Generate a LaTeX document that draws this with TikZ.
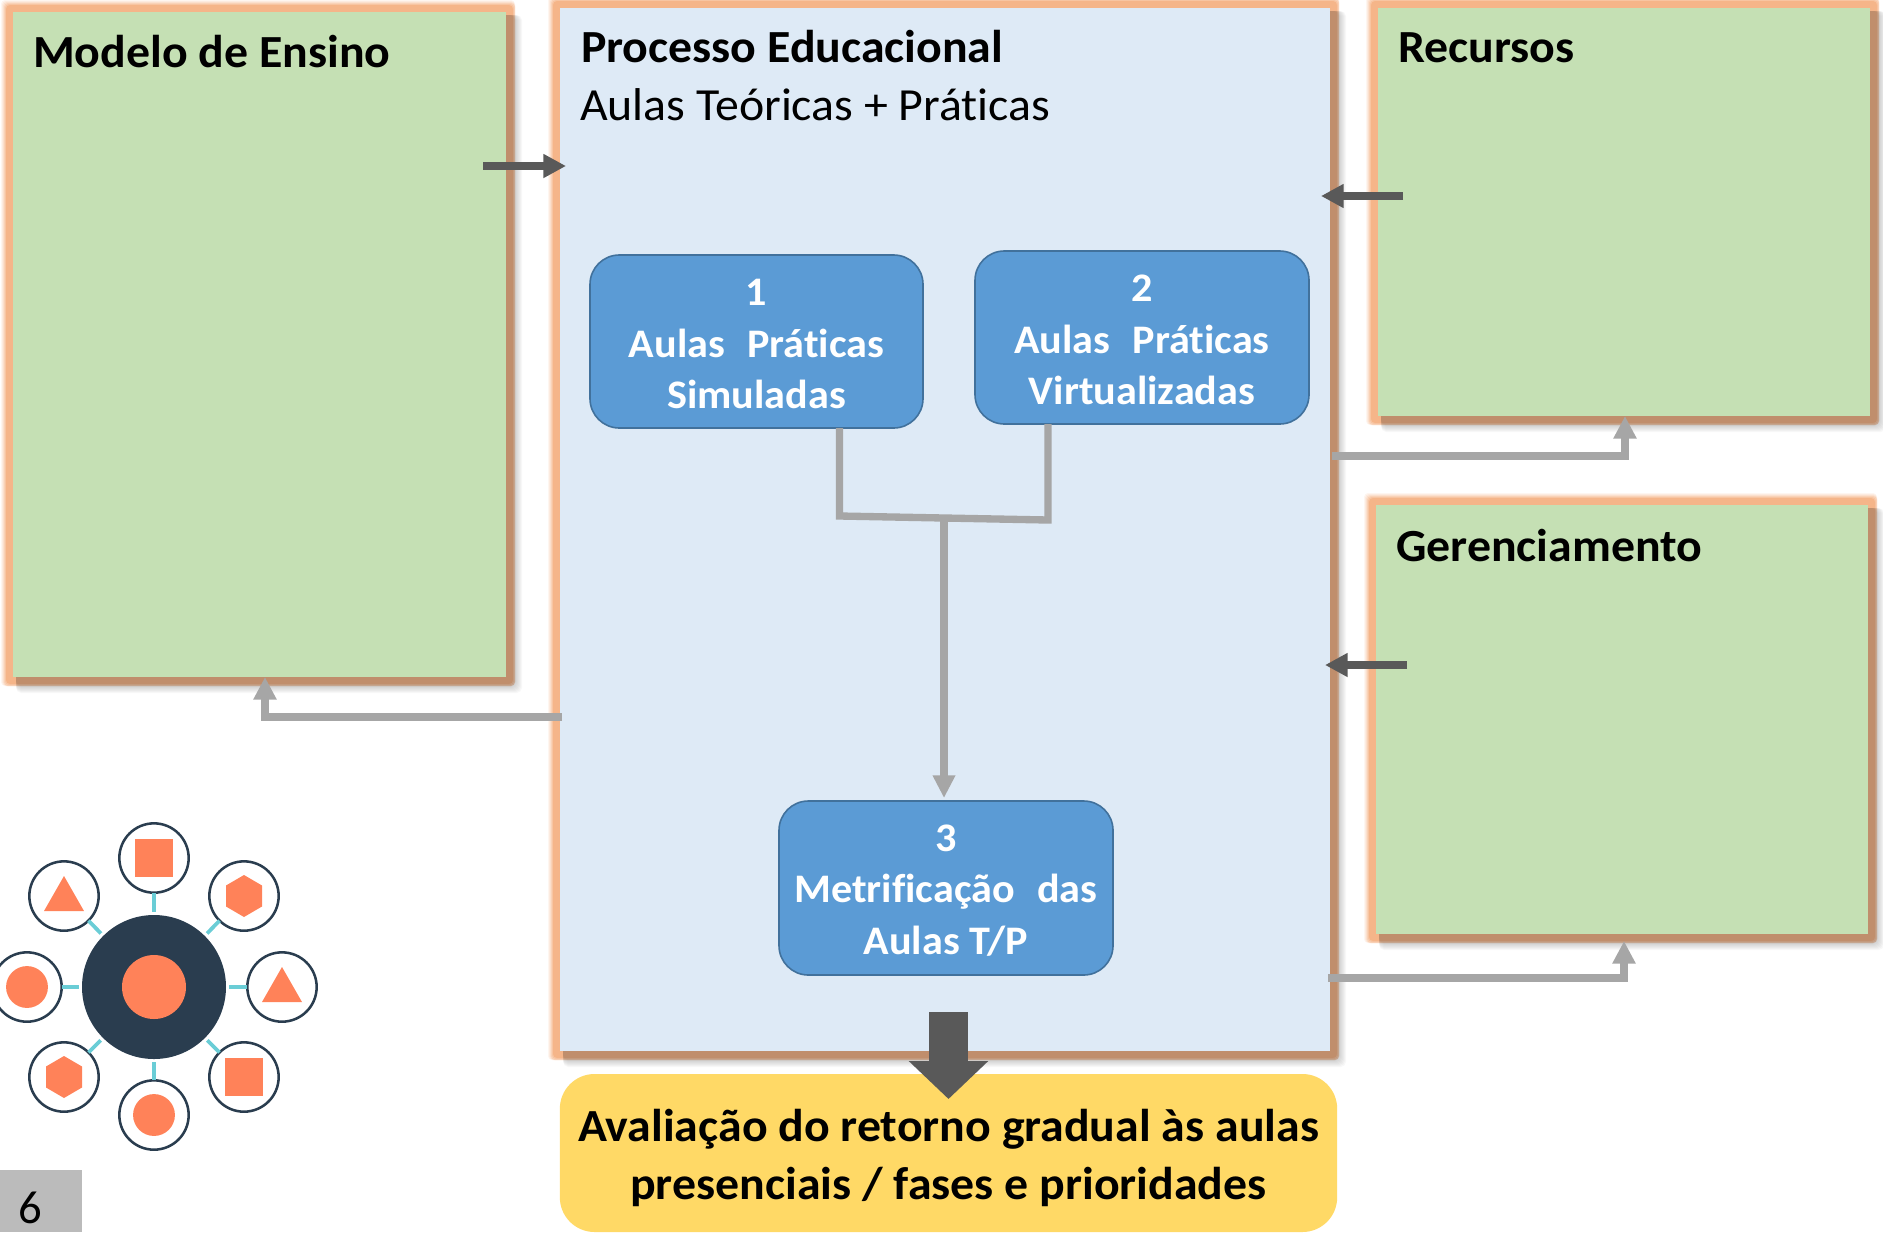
\documentclass[tikz,border=0pt]{standalone}
\usepackage{fontspec}
\setmainfont[Ligatures=NoCommon]{Carlito}
\newfontfamily\wide[Ligatures=NoCommon,FakeStretch=1.04]{Carlito}
\usetikzlibrary{arrows.meta,calc}
\definecolor{boxgreen}{HTML}{C5E0B4}
\definecolor{boxpale}{HTML}{DEEAF6}
\definecolor{glow}{HTML}{F4B183}
\definecolor{stepblue}{HTML}{5B9BD5}
\definecolor{stepline}{HTML}{41719C}
\definecolor{evalyellow}{HTML}{FFD966}
\definecolor{darkarrow}{HTML}{595959}
\definecolor{greyarrow}{HTML}{A6A6A6}
\definecolor{pagegrey}{HTML}{BBBBBB}
\definecolor{hubdark}{HTML}{2A3D4F}
\definecolor{shapeorange}{HTML}{FF8259}
\definecolor{linkteal}{HTML}{6ACDD6}
\tikzset{
  panel/.style={inner sep=0pt,outer sep=0pt,rectangle},
  stepbox/.style={rounded corners=22pt,draw=stepline,line width=1.2pt,fill=stepblue,inner sep=0pt,outer sep=0pt},
  steptext/.style={text=white,align=center,inner sep=0pt,outer sep=0pt,font=\wide\fontsize{30.4}{38.5}\selectfont\bfseries},
  title/.style={anchor=base west,inner sep=0pt,outer sep=0pt,font=\wide\fontsize{34.5}{40}\selectfont\bfseries},
  plain/.style={anchor=base west,inner sep=0pt,outer sep=0pt,font=\wide\fontsize{34.5}{40}\selectfont},
  feedback/.style={draw=darkarrow,line width=6pt,-{Triangle[length=17pt,width=17pt,fill=darkarrow]}},
  backflow/.style={draw=greyarrow,line width=6pt,-{Triangle[length=17pt,width=16.5pt,fill=greyarrow]}},
  merge/.style={draw=greyarrow,line width=5.5pt},
  sat/.style={circle,fill=white,draw=hubdark,line width=1.9pt,minimum size=52pt,inner sep=0pt,outer sep=0pt},
  link/.style={draw=linkteal,line width=2.8pt,shorten <=2.5pt},
  mark shape/.style={fill=shapeorange},
}
% name, x1, y1, x2, y2, fill : panel with orange glow and a soft shadow
\newcommand{\glowpanel}[6]{%
  \foreach \d/\o in {12/.12,11/.15,10/.2,9/.3,8/.4,7/.8} {%
    \pgfmathsetmacro{\e}{min(\d,9)}%
    \fill[glow,opacity=\o,rounded corners=3pt] (#2-\d,#3-\d) rectangle (#4+\e,#5+\e);
  }
  \foreach \d in {16,15,14,13,12,11,10,9} {%
    \fill[black,opacity=.027,rounded corners=4pt] (#2+3,#3+3) rectangle (#4+\d,#5+\d);
  }
  \pgfmathsetlengthmacro{\pw}{0.75*(#4-#2)*1pt}%
  \pgfmathsetlengthmacro{\ph}{0.75*(#5-#3)*1pt}%
  \node[panel,fill=#6,minimum width=\pw,minimum height=\ph] (#1) at ({(#2+#4)/2},{(#3+#5)/2}) {};
}
\newcommand{\stepnode}[6]{%
  \pgfmathsetlengthmacro{\pw}{0.75*(#4-#2)*1pt}%
  \pgfmathsetlengthmacro{\ph}{0.75*(#5-#3)*1pt}%
  \node[stepbox,minimum width=\pw,minimum height=\ph] (#1) at ({(#2+#4)/2},{(#3+#5)/2}) {};
  \node[steptext] (#1text) at ({(#2+#4)/2},{(#3+#5)/2+2.5}) {#6};
}
\newcommand{\msquare}[1]{\fill[mark shape] ([shift={(-19,-19)}]#1.center) rectangle ([shift={(19,19)}]#1.center);}
\newcommand{\mcircle}[1]{\fill[mark shape] (#1.center) circle (15.7pt);}
\newcommand{\mtriangle}[1]{\fill[mark shape] ([shift={(0,-20)}]#1.center) -- ([shift={(20,15)}]#1.center) -- ([shift={(-20,15)}]#1.center) -- cycle;}
\newcommand{\mhexagon}[1]{\fill[mark shape] ([shift={(0,-21)}]#1.center) -- ([shift={(18,-10.5)}]#1.center) -- ([shift={(18,10.5)}]#1.center) -- ([shift={(0,21)}]#1.center) -- ([shift={(-18,10.5)}]#1.center) -- ([shift={(-18,-10.5)}]#1.center) -- cycle;}
\newcommand{\widegap}{\ \ \hspace{2.4pt}}
\begin{document}
\begin{tikzpicture}[x=0.75pt,y=-0.75pt]
\useasboundingbox (0,0) rectangle (1883,1232);

% panels
\glowpanel{modelo}{13}{12}{506}{677}{boxgreen}
\glowpanel{recursos}{1378}{8}{1870}{416}{boxgreen}
\glowpanel{gerencia}{1376}{505}{1868}{934}{boxgreen}
\glowpanel{processo}{560}{8}{1330}{1051}{boxpale}

\node[title] (tmodelo) at (33,67) {Modelo de Ensino};
\node[title] (tprocesso) at (581,62) {Processo Educacional};
\node[plain] (taulas) at (580,120) {Aulas Teóricas + Práticas};
\node[title] (trecursos) at (1398,62) {Recursos};
\node[title] (tgerencia) at (1396,561) {Gerenciamento};

% step boxes
\stepnode{b1}{590}{255}{923}{428}{1\\Aulas\widegap Práticas\\Simuladas}
\stepnode{b2}{975}{251}{1309}{424}{2\\Aulas\widegap Práticas\\Virtualizadas}
\stepnode{b3}{779}{801}{1113}{975}{3\\Metrificação\widegap das\\Aulas T/P}

% merge connector
\coordinate (busl) at (839.5,516);
\coordinate (busr) at (1048,520);
\coordinate (busm) at (944,518);
\coordinate (mergetip) at (944,798);
\draw[merge,line join=miter] (busl |- b1.south) -- (busl) -- (busr) -- (busr |- b2.south);
\draw[merge,-{Triangle[length=17pt,width=16pt,fill=greyarrow]}] (busm) -- (mergetip);

% yellow box
\node[rounded corners=26pt,fill=evalyellow,inner sep=0pt,outer sep=0pt,minimum width=583pt,minimum height=118.5pt] (aval) at (948.5,1153) {};
\node[align=center,inner sep=0pt,outer sep=0pt,font=\wide\fontsize{34.5}{43.5}\selectfont\bfseries] (avaltext) at (948.5,1158)
  {Avaliação do retorno gradual às aulas\\presenciais / fases e prioridades};

% large arrow
\coordinate (bigstart) at (948.5,1012);
\coordinate (bigtip) at (948.5,1099);
\draw[draw=darkarrow,line width=29pt,-{Triangle[length=28.5pt,width=58pt,fill=darkarrow]}] (bigstart) -- (bigtip);

% input arrows
\coordinate (fa1) at (483,166);
\coordinate (ta1) at (566,166);
\draw[feedback] (fa1) -- (ta1);
\coordinate (fa2) at (1403,196);
\coordinate (ta2) at (1321,196);
\draw[feedback] (fa2) -- (ta2);
\coordinate (fa3) at (1407,665);
\coordinate (ta3) at (1325,665);
\draw[feedback] (fa3) -- (ta3);

% return arrows
\coordinate (c1) at (1625,456);
\coordinate (c2) at (1624,978);
\coordinate (c3) at (265,717);
\draw[backflow] (processo.east |- c1) ++(2,0) -- (c1) -- (c1 |- recursos.south);
\draw[backflow] (processo.east |- c2) ++(-2,0) -- (c2) -- ($(c2 |- gerencia.south)+(0,7)$);
\draw[backflow] (processo.west |- c3) ++(2,0) -- (c3) -- (c3 |- modelo.south);

% icon
\node[circle,fill=hubdark,minimum size=108pt,inner sep=0pt,outer sep=0pt] (hub) at (154,987) {};
\node[circle,fill=shapeorange,minimum size=48pt,inner sep=0pt,outer sep=0pt] (hubin) at (154,987) {};
\node[sat] (s1) at (154,858) {};
\node[sat] (s2) at (244,896) {};
\node[sat] (s3) at (282,987) {};
\node[sat] (s4) at (244,1077) {};
\node[sat] (s5) at (154,1115) {};
\node[sat] (s6) at (64,1077) {};
\node[sat] (s7) at (27,987) {};
\node[sat] (s8) at (64,896) {};
\foreach \s in {s1,s2,s3,s4,s5,s6,s7,s8} {\draw[link] (hub) -- (\s);}
\msquare{s1}
\mhexagon{s2}
\mtriangle{s3}
\msquare{s4}
\mcircle{s5}
\mhexagon{s6}
\mcircle{s7}
\mtriangle{s8}

% page number
\node[fill=pagegrey,inner sep=0pt,outer sep=0pt,minimum width=61.5pt,minimum height=46.5pt,anchor=south west] (pageno) at (0,1232) {};
\node[anchor=base,inner sep=0pt,font=\fontsize{35}{40}\selectfont] (pagetxt) at (30,1223) {6};
\end{tikzpicture}
\end{document}
